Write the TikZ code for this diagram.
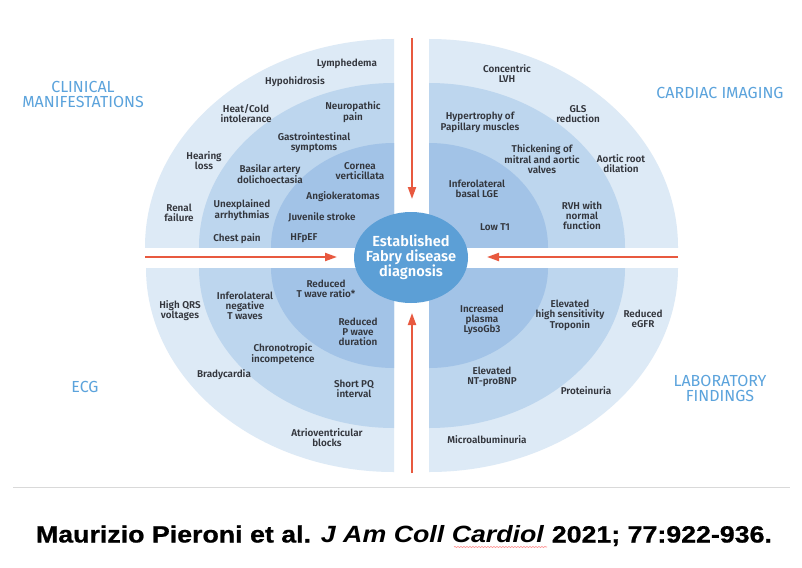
\documentclass[tikz,border=0pt]{standalone}
\usepackage{graphicx}
\usepackage{fontspec}
\setmainfont{Fira Sans}
\IfFontExistsTF{Fira Sans SemiBold}{\newfontfamily\lblfont{Fira Sans SemiBold}}{%
  \IfFontExistsTF{Fira Sans Medium}{\newfontfamily\lblfont{Fira Sans Medium}}{\newfontfamily\lblfont{Fira Sans}[FakeBold=1.2]}}
\newfontfamily\citefont{Liberation Sans}[BoldFeatures={FakeBold=0.8}]
\usetikzlibrary{arrows.meta,shapes.geometric,decorations.pathmorphing}
\definecolor{ringA}{HTML}{DDEAF6}
\definecolor{ringB}{HTML}{BDD6EE}
\definecolor{ringC}{HTML}{A2C3E7}
\definecolor{core}{HTML}{5C9FD6}
\definecolor{arrowred}{HTML}{E8593F}
\definecolor{headblue}{HTML}{5BA3DC}
\definecolor{txt}{HTML}{33363D}
\tikzset{
  lbl/.style={font=\lblfont\fontsize{9.9}{10}\selectfont, text=txt, align=center, inner sep=0pt},
  heading/.style={font=\fontsize{16}{15}\selectfont, text=headblue, align=center, inner sep=0pt},
  redarrow/.style={draw=arrowred, line width=2pt, -{Triangle[width=8pt,length=12pt]}},
  coreshape/.style={ellipse, fill=core, minimum width=114pt, minimum height=91pt, inner sep=0pt},
  coretext/.style={font=\lblfont\fontsize{14.6}{15}\selectfont, text=white, align=center, inner sep=0pt}
}
\begin{document}
\begin{tikzpicture}[x=1pt,y=-1pt]
\useasboundingbox (0,0) rectangle (802,567);
\fill[white] (0,0) rectangle (802,567);
% top-left quadrant
\begin{scope}
\clip (394,247) rectangle (140,30);
\fill[ringA] (394,247) ellipse [x radius=249pt, y radius=208pt];
\fill[ringB] (394,247) ellipse [x radius=195pt, y radius=164pt];
\fill[ringC] (394,247) ellipse [x radius=123pt, y radius=104pt];
\end{scope}
% top-right quadrant
\begin{scope}
\clip (429,247) rectangle (690,30);
\fill[ringA] (429,247) ellipse [x radius=249pt, y radius=208pt];
\fill[ringB] (429,247) ellipse [x radius=196pt, y radius=164pt];
\fill[ringC] (429,247) ellipse [x radius=119pt, y radius=104pt];
\end{scope}
% bottom-left quadrant
\begin{scope}
\clip (394,268) rectangle (140,480);
\fill[ringA] (394,268) ellipse [x radius=248pt, y radius=204pt];
\fill[ringB] (394,268) ellipse [x radius=195pt, y radius=160pt];
\fill[ringC] (394,268) ellipse [x radius=123pt, y radius=100pt];
\end{scope}
% bottom-right quadrant
\begin{scope}
\clip (429,268) rectangle (690,480);
\fill[ringA] (429,268) ellipse [x radius=249pt, y radius=204pt];
\fill[ringB] (429,268) ellipse [x radius=196pt, y radius=160pt];
\fill[ringC] (429,268) ellipse [x radius=119pt, y radius=100pt];
\end{scope}

% center
\node[coreshape] (dx) at (411,257.5) {};
\node[coretext] (dxt) at (dx.center) {Established\\Fabry disease\\diagnosis};

% arrows
\coordinate (tA) at (412,38);  \coordinate (tB) at (412,199);
\coordinate (lA) at (145,257); \coordinate (lB) at (337,257);
\coordinate (rA) at (678,257); \coordinate (rB) at (487,257);
\coordinate (bA) at (412,473); \coordinate (bB) at (412,313);
\draw[redarrow] (tA) -- (tB);
\draw[redarrow] (lA) -- (lB);
\draw[redarrow] (rA) -- (rB);
\draw[redarrow] (bA) -- (bB);

% headings
\node[heading] (hcm) at (83,94.5) {CLINICAL\\MANIFESTATIONS};
\node[heading] (hci) at (720,93) {CARDIAC IMAGING};
\node[heading] (hecg) at (85,387) {ECG};
\node[heading] (hlab) at (720,388) {LABORATORY\\FINDINGS};

% top-left labels
\node[lbl] (l1) at (347,64) {Lymphedema};
\node[lbl] (l2) at (295,82) {Hypohidrosis};
\node[lbl] (l3) at (246,114) {Heat/Cold\\intolerance};
\node[lbl] (l4) at (353,112) {Neuropathic\\pain};
\node[lbl] (l5) at (314,143) {Gastrointestinal\\symptoms};
\node[lbl] (l6) at (204,161) {Hearing\\loss};
\node[lbl] (l7) at (270,174) {Basilar artery\\dolichoectasia};
\node[lbl] (l8) at (360,171) {Cornea\\verticillata};
\node[lbl] (l9) at (343,197) {Angiokeratomas};
\node[lbl] (l10) at (179,213) {Renal\\failure};
\node[lbl] (l11) at (242,210) {Unexplained\\arrhythmias};
\node[lbl] (l12) at (322,217) {Juvenile stroke};
\node[lbl] (l13) at (237,239) {Chest pain};
\node[lbl] (l14) at (304,238) {HFpEF};

% top-right labels
\node[lbl] (c1) at (507,74) {Concentric\\LVH};
\node[lbl] (c2) at (480,122) {Hypertrophy of\\Papillary muscles};
\node[lbl] (c3) at (578,114) {GLS\\reduction};
\node[lbl] (c4) at (542,159) {Thickening of\\mitral and aortic\\valves};
\node[lbl] (c5) at (621,164) {Aortic root\\dilation};
\node[lbl] (c6) at (477,189) {Inferolateral\\basal LGE};
\node[lbl] (c7) at (582,216) {RVH with\\normal\\function};
\node[lbl] (c8) at (495,227) {Low T1};

% bottom-left labels
\node[lbl] (e1) at (326,289) {Reduced\\T wave ratio*};
\node[lbl] (e2) at (245,306) {Inferolateral\\negative\\T waves};
\node[lbl] (e3) at (180,311) {High QRS\\voltages};
\node[lbl] (e4) at (358,332) {Reduced\\P wave\\duration};
\node[lbl] (e5) at (283,354) {Chronotropic\\incompetence};
\node[lbl] (e6) at (224,375) {Bradycardia};
\node[lbl] (e7) at (354,389) {Short PQ\\interval};
\node[lbl] (e8) at (327,438) {Atrioventricular\\blocks};

% bottom-right labels
\node[lbl] (b1) at (482,320) {Increased\\plasma\\LysoGb3};
\node[lbl] (b2) at (570,315) {Elevated\\high sensitivity\\Troponin};
\node[lbl] (b3) at (643,319) {Reduced\\eGFR};
\node[lbl] (b4) at (492,377) {Elevated\\NT-proBNP};
\node[lbl] (b5) at (586,391) {Proteinuria};
\node[lbl] (b6) at (487,440) {Microalbuminuria};

% separator and citation
\coordinate (sA) at (13,487); \coordinate (sB) at (790,487);
\draw[black!15, line width=1pt] (sA) -- (sB);
\node[anchor=base, inner sep=0pt] (cite) at (404,542.5) {\resizebox{736pt}{\height}{\citefont\bfseries\fontsize{23.5}{26}\selectfont Maurizio Pieroni et al. \textit{J Am Coll Cardiol} 2021; 77:922-936.}};
\coordinate (uA) at (454,547); \coordinate (uB) at (547,547);
\draw[red!45, line width=0.6pt, decorate, decoration={snake, amplitude=0.6pt, segment length=3pt}] (uA) -- (uB);
\end{tikzpicture}
\end{document}
